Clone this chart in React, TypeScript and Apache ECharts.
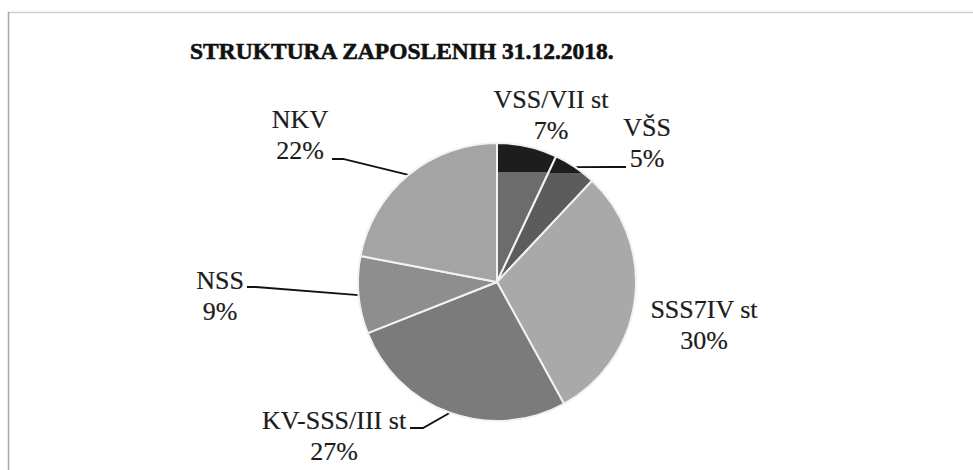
import { useEffect, useRef } from 'react';
import * as echarts from 'echarts';

const titleText = 'STRUKTURA ZAPOSLENIH 31.12.2018.';
const categories = ['VSS/VII st', 'VŠS', 'SSS7IV st', 'KV-SSS/III st', 'NSS', 'NKV'];
const percentages = [7, 5, 30, 27, 9, 22];

// styling / layout (kept separate from the data)
const baseColors = ['#6c6c6c', '#5c5c5c', '#a9a9a9', '#7b7b7b', '#8e8e8e', '#a4a4a4'];
const topBand = [0.21, 0.131, 0, 0, 0, 0];
const showLeader = [false, true, false, true, true, true];
const labelAnchors = [
  [551, 114.5],
  [647, 143],
  [704, 325],
  [334, 436],
  [220, 296],
  [300, 135],
];
const leaderTails: (number[][] | null)[] = [
  null,
  [[612, 167], [626, 167]],
  null,
  [[423, 428], [410, 428]],
  [[256, 287], [247, 287]],
  [[343, 159], [332, 159]],
];

const CX = 497;
const CY = 282;
const R = 139;

export default function App() {
  const ref = useRef<HTMLDivElement>(null);

  useEffect(() => {
    document.body.style.margin = '0';
    if (!ref.current) return;
    const chart = echarts.init(ref.current, null, { renderer: 'svg' });
    const total = percentages.reduce((a, b) => a + b, 0);

    const data = categories.map((name, i) => {
      const band = topBand[i];
      const color =
        band > 0
          ? {
              type: 'linear',
              x: 0,
              y: 0,
              x2: 0,
              y2: 1,
              colorStops: [
                { offset: 0, color: '#1d1d1d' },
                { offset: band, color: '#1d1d1d' },
                { offset: band, color: baseColors[i] },
                { offset: 1, color: baseColors[i] },
              ],
            }
          : baseColors[i];
      return {
        name,
        value: percentages[i],
        itemStyle: { color },
        labelLine: { show: showLeader[i] },
      };
    });

    const midPoint = (i: number) => {
      let cum = 0;
      for (let k = 0; k < i; k++) cum += percentages[k];
      const frac = (cum + percentages[i] / 2) / total;
      const a = frac * Math.PI * 2;
      return [CX + R * Math.sin(a), CY - R * Math.cos(a)];
    };

    chart.setOption({
      animation: false,
      backgroundColor: '#ffffff',
      title: {
        text: titleText,
        left: 190,
        top: 38,
        padding: 0,
        textStyle: {
          fontFamily: 'Liberation Serif',
          fontWeight: 'bold',
          fontSize: 23.5,
          lineHeight: 26,
          color: '#111',
          textBorderColor: '#111',
          textBorderWidth: 0.6,
        },
      },
      graphic: [
        {
          type: 'line',
          shape: { x1: 8, y1: 12.5, x2: 973, y2: 12.5 },
          style: { stroke: '#cfcfcf', lineWidth: 1.5 },
          silent: true,
        },
        {
          type: 'line',
          shape: { x1: 8.5, y1: 12, x2: 8.5, y2: 470 },
          style: { stroke: '#a8a8a8', lineWidth: 1.5 },
          silent: true,
        },
      ],
      series: [
        {
          type: 'pie',
          center: [CX, CY],
          radius: R,
          startAngle: 90,
          clockwise: true,
          avoidLabelOverlap: false,
          emphasis: { disabled: true },
          itemStyle: { borderColor: '#f2f2f2', borderWidth: 2 },
          label: {
            show: true,
            position: 'outside',
            formatter: (p: any) => `${p.name}\n${p.value}%`,
            fontFamily: 'Liberation Serif',
            fontSize: 26,
            lineHeight: 31,
            color: '#1c1c1c',
            textBorderColor: '#1c1c1c',
            textBorderWidth: 0.2,
            align: 'center',
          },
          labelLine: {
            show: true,
            lineStyle: { color: '#111', width: 1.8 },
          },
          labelLayout: (params: any) => {
            const i = params.dataIndex;
            const [x, y] = labelAnchors[i];
            const res: any = { x, y, align: 'center', verticalAlign: 'middle' };
            const tail = leaderTails[i];
            if (tail) {
              const start =
                params.labelLinePoints && params.labelLinePoints[0]
                  ? params.labelLinePoints[0]
                  : midPoint(i);
              res.labelLinePoints = [start, tail[0], tail[1]];
            }
            return res;
          },
          data,
        },
      ],
    });

    return () => chart.dispose();
  }, []);

  return <div ref={ref} style={{ width: 973, height: 470 }} />;
}
